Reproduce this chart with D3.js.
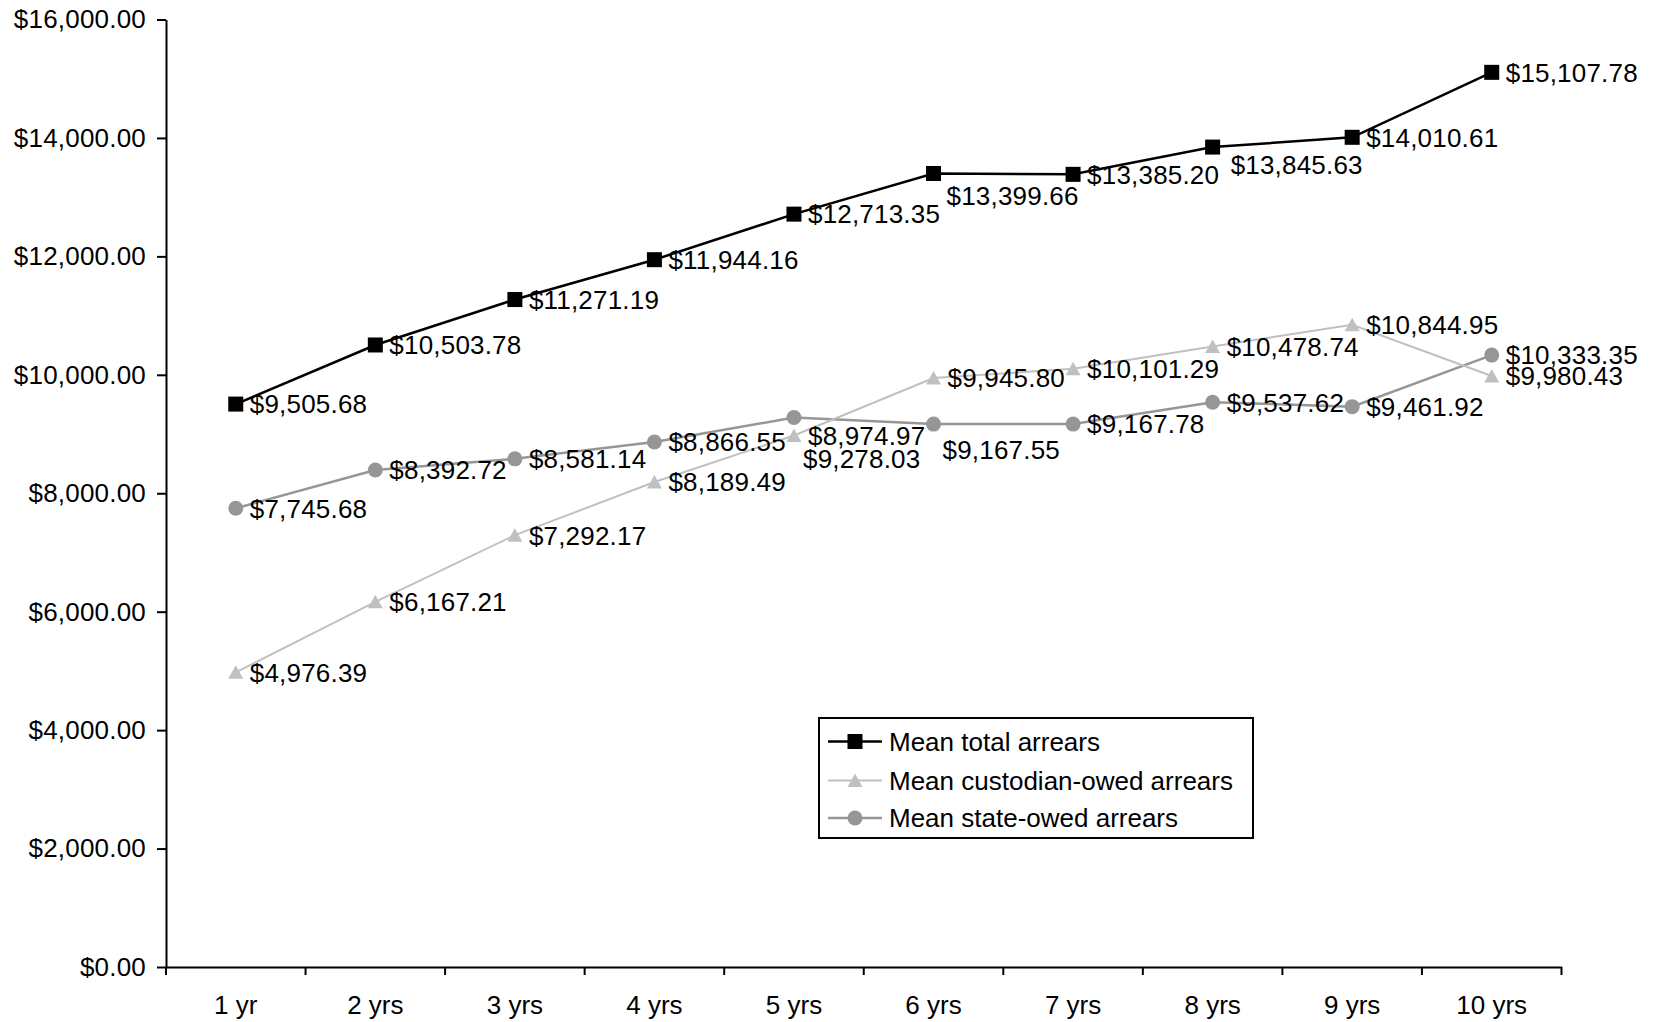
<!DOCTYPE html>
<html>
<head>
<meta charset="utf-8">
<script src="https://cdn.jsdelivr.net/npm/d3@7"></script>
<style>
  html, body { margin: 0; padding: 0; background: #fff; }
  svg { display: block; font-family: "Liberation Sans", Arial, sans-serif; }
</style>
</head>
<body>
<svg id="chart" width="1658" height="1022"></svg>
<script>
// Years since order
const categories = ["1 yr", "2 yrs", "3 yrs", "4 yrs", "5 yrs", "6 yrs", "7 yrs", "8 yrs", "9 yrs", "10 yrs"];

// Mean arrears by series
const totalArrears = [9505.68, 10503.78, 11271.19, 11944.16, 12713.35, 13399.66, 13385.20, 13845.63, 14010.61, 15107.78];
const custodianArrears = [4976.39, 6167.21, 7292.17, 8189.49, 8974.97, 9945.80, 10101.29, 10478.74, 10844.95, 9980.43];
const stateArrears = [7745.68, 8392.72, 8581.14, 8866.55, 9278.03, 9167.55, 9167.78, 9537.62, 9461.92, 10333.35];

const seriesNames = ["Mean total arrears", "Mean custodian-owed arrears", "Mean state-owed arrears"];

// Y axis tick values
const yTicks = [0, 2000, 4000, 6000, 8000, 10000, 12000, 14000, 16000];

const svg = d3.select("#chart");
const FONT = 26;

const x = d3.scaleBand().domain(categories).range([166, 1561.5]).padding(0);
const y = d3.scaleLinear().domain([0, 16000]).range([967, 19.5]);
const cx = c => x(c) + x.bandwidth() / 2;

const money = v => "$" + d3.format(",.2f")(v);

// Y axis
const yAxis = svg.append("g")
  .attr("transform", "translate(166,0)")
  .call(d3.axisLeft(y).tickValues(yTicks).tickFormat(money).tickSizeInner(9).tickSizeOuter(0).tickPadding(11));
yAxis.select(".domain").attr("stroke", "#000").attr("stroke-width", 2);
yAxis.selectAll(".tick line").attr("stroke", "#000").attr("stroke-width", 2);
yAxis.selectAll(".tick text").attr("font-size", FONT).attr("fill", "#000")
  .attr("letter-spacing", "0.2px")
  .attr("font-family", "Liberation Sans, Arial, sans-serif");

// X axis: labels centred in each band, tick marks on band boundaries
const xAxis = svg.append("g")
  .attr("transform", "translate(0,967)")
  .call(d3.axisBottom(x).tickSize(0).tickPadding(29));
xAxis.select(".domain").attr("stroke", "#000").attr("stroke-width", 2);
xAxis.selectAll(".tick text").attr("font-size", FONT).attr("fill", "#000")
  .attr("font-family", "Liberation Sans, Arial, sans-serif");

const boundaries = categories.map(c => x(c)).concat([x.range()[1]]);
svg.append("g").selectAll("line").data(boundaries).join("line")
  .attr("x1", d => d).attr("x2", d => d)
  .attr("y1", 967).attr("y2", 975)
  .attr("stroke", "#000").attr("stroke-width", 2);

// Series styling
const styles = [
  { values: totalArrears, stroke: "#000", fill: "#000", width: 2.5, marker: "square" },
  { values: custodianArrears, stroke: "#c0c0c0", fill: "#c0c0c0", width: 2, marker: "triangle" },
  { values: stateArrears, stroke: "#969696", fill: "#969696", width: 2.5, marker: "circle" }
];

// Data label offsets (from marker centre to label start / vertical middle)
const labelOffsets = [
  { 5: [13, 22], 7: [18, 18] },
  {},
  { 4: [9, 41], 5: [9, 26] }
];

function drawMarker(g, type, px, py, fill) {
  if (type === "square") {
    g.append("rect").attr("x", px - 7.5).attr("y", py - 7.5).attr("width", 15).attr("height", 15).attr("fill", fill);
  } else if (type === "triangle") {
    g.append("path").attr("d", `M${px},${py - 7}L${px + 7.5},${py + 6.5}L${px - 7.5},${py + 6.5}Z`).attr("fill", fill);
  } else {
    g.append("circle").attr("cx", px).attr("cy", py).attr("r", 7.5).attr("fill", fill);
  }
}

const line = d3.line().x(d => cx(d.c)).y(d => y(d.v));

// Draw state first, then custodian, then total on top
[2, 1, 0].forEach(si => {
  const s = styles[si];
  const pts = categories.map((c, i) => ({ c, v: s.values[i] }));
  const g = svg.append("g");
  g.append("path").datum(pts).attr("d", line)
    .attr("fill", "none").attr("stroke", s.stroke).attr("stroke-width", s.width);
  pts.forEach(p => drawMarker(g, s.marker, cx(p.c), y(p.v), s.fill));
});

// Data labels
styles.forEach((s, si) => {
  const g = svg.append("g");
  categories.forEach((c, i) => {
    const off = labelOffsets[si][i] || [14, 0];
    g.append("text")
      .attr("x", cx(c) + off[0])
      .attr("y", y(s.values[i]) + off[1])
      .attr("dy", "0.36em")
      .attr("font-size", FONT)
      .attr("letter-spacing", "0.2px")
      .attr("fill", "#000")
      .text(money(s.values[i]));
  });
});

// Legend
const legend = svg.append("g");
legend.append("rect")
  .attr("x", 819).attr("y", 718).attr("width", 434).attr("height", 120)
  .attr("fill", "#fff").attr("stroke", "#000").attr("stroke-width", 2);
const rowY = [741.5, 780.5, 818];
styles.forEach((s, si) => {
  const yy = rowY[si];
  legend.append("line").attr("x1", 828).attr("x2", 882).attr("y1", yy).attr("y2", yy)
    .attr("stroke", s.stroke).attr("stroke-width", s.width);
  drawMarker(legend, s.marker, 855, yy, s.fill);
  legend.append("text").attr("x", 889).attr("y", yy).attr("dy", "0.36em")
    .attr("font-size", FONT).attr("fill", "#000").text(seriesNames[si]);
});
</script>
</body>
</html>
